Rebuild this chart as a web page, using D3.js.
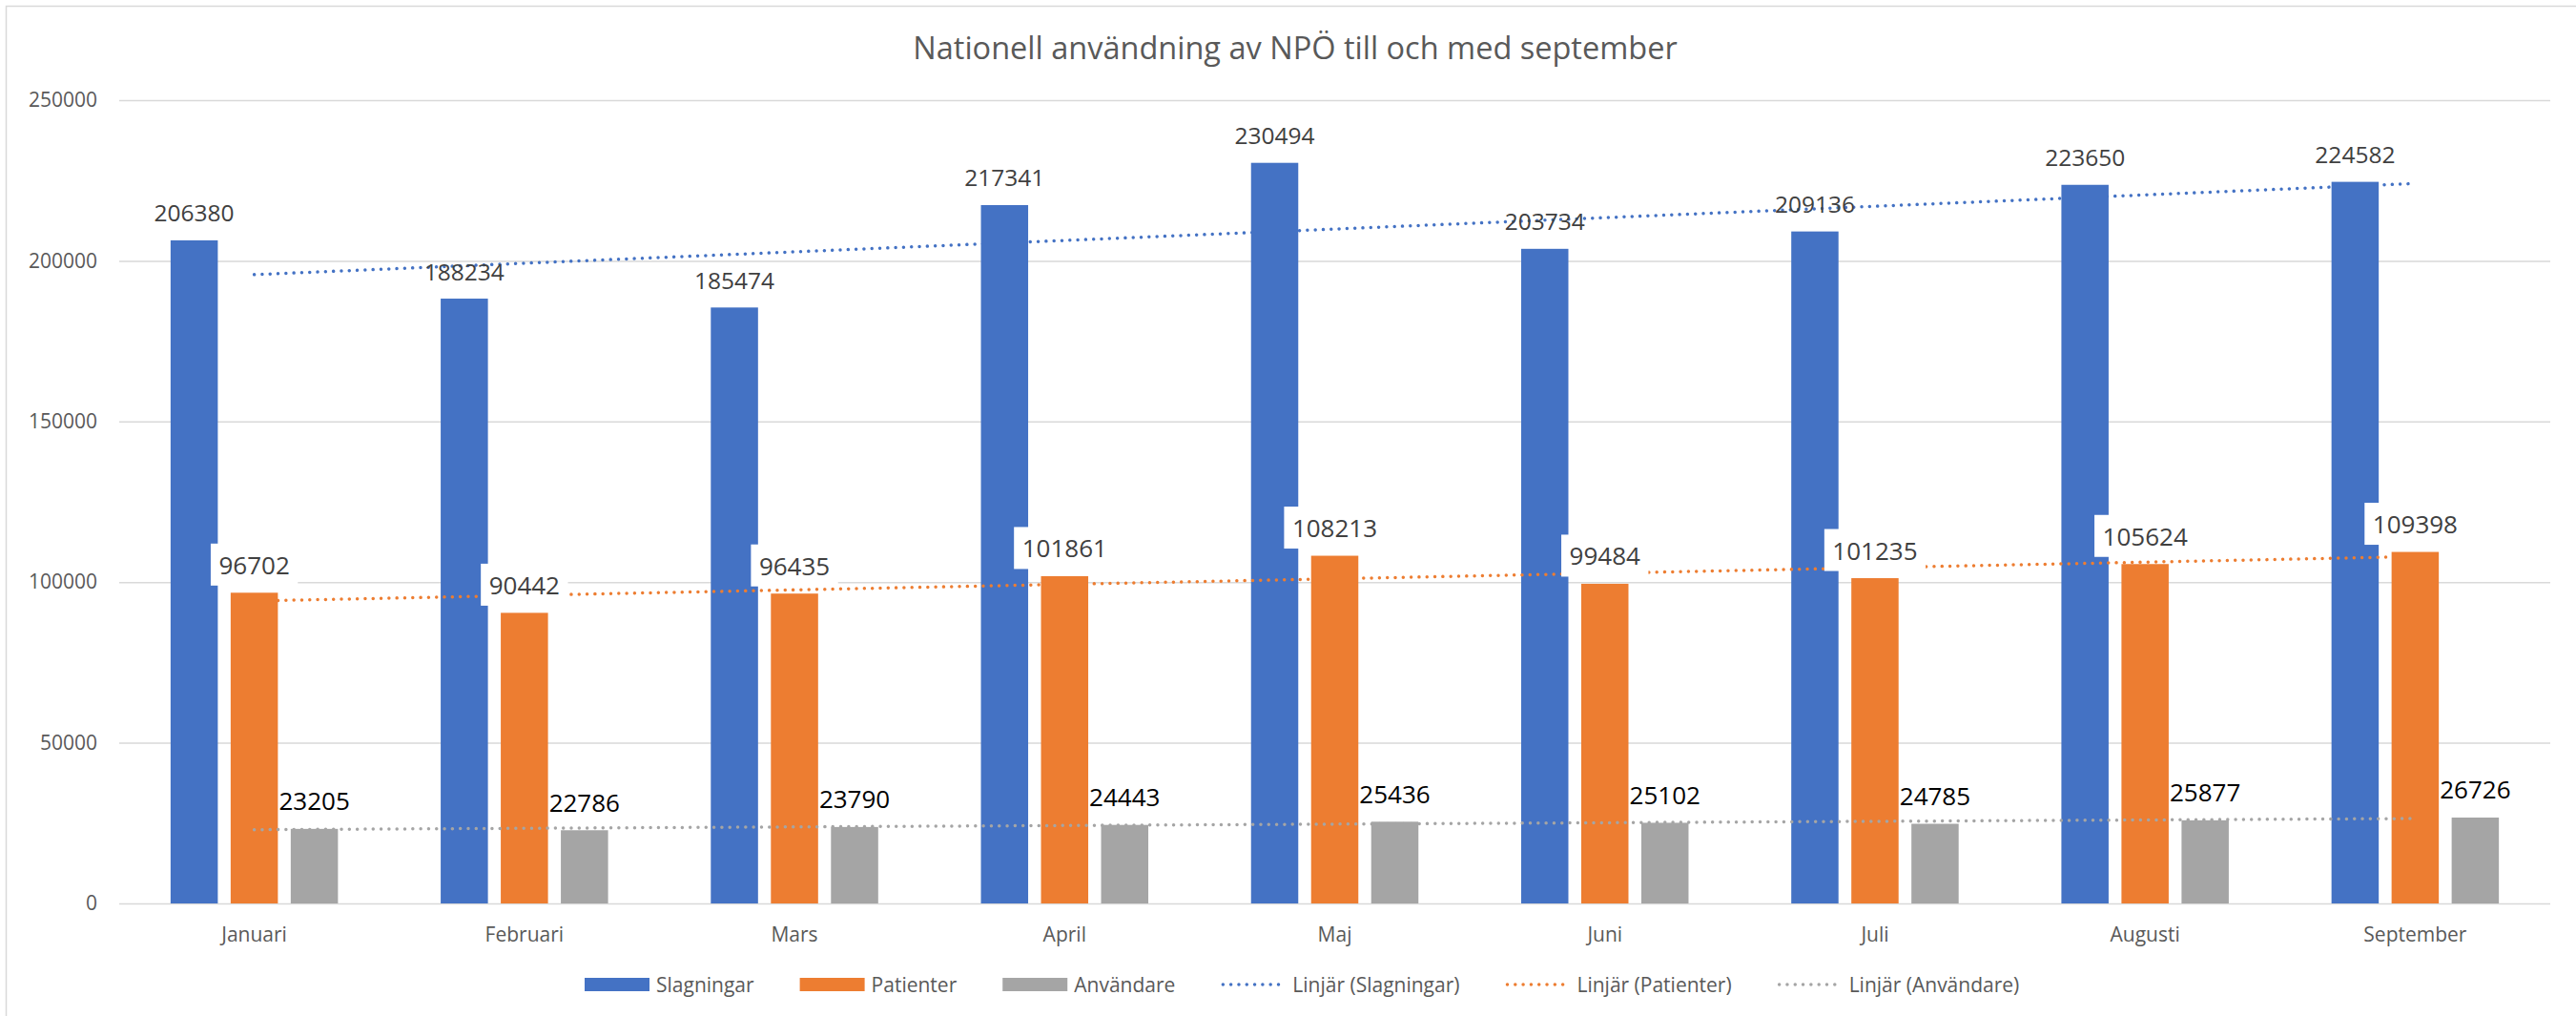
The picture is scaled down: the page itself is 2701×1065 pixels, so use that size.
<!DOCTYPE html>
<html>
<head>
<meta charset="utf-8">
<script src="https://cdn.jsdelivr.net/npm/d3@7"></script>
<style>
  body { margin: 0; background: #fff; }
  text { font-family: "Open Sans", "Noto Sans", sans-serif; }
</style>
</head>
<body>
<svg id="chart" width="2701" height="1065"></svg>
<script>
const months = ['Januari', 'Februari', 'Mars', 'April', 'Maj', 'Juni', 'Juli', 'Augusti', 'September'];
const slagningar = [206380, 188234, 185474, 217341, 230494, 203734, 209136, 223650, 224582];
const patienter = [96702, 90442, 96435, 101861, 108213, 99484, 101235, 105624, 109398];
const anvandare = [23205, 22786, 23790, 24443, 25436, 25102, 24785, 25877, 26726];
const seriesNames = ['Slagningar', 'Patienter', 'Användare'];
const yTicks = [0, 50000, 100000, 150000, 200000, 250000];

const colors = ['#4472C4', '#ED7D31', '#A5A5A5'];
const seriesValues = [slagningar, patienter, anvandare];

const svg = d3.select('#chart');
const plotLeft = 125, plotRight = 2674, plotTop = 105, plotBottom = 947;

// chart frame (only top/left edge inside the picture)
svg.append('rect')
  .attr('x', 6.5).attr('y', 6.5)
  .attr('width', 2720).attr('height', 1080)
  .attr('fill', 'white')
  .attr('stroke', '#d9d9d9')
  .attr('stroke-width', 1.5);

// title
svg.append('text')
  .attr('x', 1358).attr('y', 62)
  .attr('text-anchor', 'middle')
  .style('font-size', '32.5px')
  .style('fill', '#595959')
  .text('Nationell användning av NPÖ till och med september');

const x0 = d3.scaleBand().domain(months).range([plotLeft, plotRight]);
const groupW = 175.5;
const x1 = d3.scaleBand().domain(seriesNames).range([0, groupW]).paddingInner(0.214);
const groupOff = (x0.bandwidth() - groupW) / 2;
const y = d3.scaleLinear().domain([0, 250000]).range([plotBottom, plotTop]);

// grid + y labels
const yAxis = svg.append('g')
  .attr('transform', 'translate(' + plotLeft + ',0)')
  .call(d3.axisLeft(y).tickValues(yTicks).tickSize(-(plotRight - plotLeft)).tickPadding(23).tickFormat(d3.format('d')));
yAxis.select('.domain').remove();
yAxis.selectAll('.tick line').attr('stroke', '#d9d9d9').attr('stroke-width', 1.5);
yAxis.selectAll('.tick text')
  .style('font-size', '21px')
  .style('font-family', '"Open Sans", sans-serif')
  .attr('fill', '#595959');

// x labels
const xAxis = svg.append('g')
  .attr('transform', 'translate(0,' + plotBottom + ')')
  .call(d3.axisBottom(x0).tickSize(0).tickPadding(0));
xAxis.select('.domain').remove();
xAxis.selectAll('.tick text')
  .attr('dy', null)
  .attr('y', 40)
  .style('font-size', '21px')
  .style('font-family', '"Open Sans", sans-serif')
  .attr('fill', '#595959');

function trend(vals) {
  const n = vals.length;
  const mx = d3.mean(vals, (d, i) => i + 1);
  const my = d3.mean(vals);
  let sxy = 0, sxx = 0;
  vals.forEach((v, i) => { sxy += (i + 1 - mx) * (v - my); sxx += (i + 1 - mx) * (i + 1 - mx); });
  const b = sxy / sxx;
  return [1, n].map(k => [k, my + b * (k - mx)]);
}

const cx = i => x0(months[i]) + x0.bandwidth() / 2;

seriesNames.forEach((name, s) => {
  const vals = seriesValues[s];
  const g = svg.append('g').attr('class', 'series-' + s);

  // linear trendline (drawn under this series' bars)
  const t = trend(vals);
  g.append('line')
    .attr('x1', cx(t[0][0] - 1)).attr('y1', y(t[0][1]))
    .attr('x2', cx(t[1][0] - 1)).attr('y2', y(t[1][1]))
    .attr('stroke', colors[s])
    .attr('stroke-width', 3.5)
    .attr('stroke-linecap', 'round')
    .attr('stroke-dasharray', '0.01 8.3');

  g.selectAll('rect.bar')
    .data(vals)
    .enter()
    .append('rect')
    .attr('class', 'bar')
    .attr('x', (d, i) => x0(months[i]) + groupOff + x1(name))
    .attr('y', d => y(d))
    .attr('width', x1.bandwidth())
    .attr('height', d => y(0) - y(d))
    .attr('fill', colors[s]);

  const labels = g.selectAll('g.lbl')
    .data(vals)
    .enter()
    .append('g')
    .attr('class', 'lbl');

  const txt = labels.append('text')
    .attr('x', (d, i) => x0(months[i]) + groupOff + x1(name) + x1.bandwidth() / 2)
    .attr('y', d => y(d) - 19.5)
    .attr('text-anchor', 'middle')
    .style('font-size', s === 0 ? '24.5px' : '26px')
    .style('fill', s === 2 ? '#000000' : '#404040')
    .text(d => d);

  if (s === 1) {
    // white label boxes
    txt.each(function(d) {
      const w = this.getComputedTextLength() + 17;
      const xx = +d3.select(this).attr('x');
      const yy = +d3.select(this).attr('y');
      d3.select(this.parentNode).insert('rect', 'text')
        .attr('x', xx - w / 2).attr('y', yy - 32)
        .attr('width', w).attr('height', 44)
        .attr('fill', 'white');
    });
  }
});

// legend
const legendItems = seriesNames.map((n, i) => ({ name: n, color: colors[i], type: 'bar' }))
  .concat(seriesNames.map((n, i) => ({ name: 'Linjär (' + n + ')', color: colors[i], type: 'line' })));
const legend = svg.append('g').attr('class', 'legend');
let lx = 613;
const ly = 1032;
legendItems.forEach(item => {
  if (item.type === 'bar') {
    legend.append('rect')
      .attr('x', lx).attr('y', ly - 7)
      .attr('width', 68).attr('height', 14)
      .attr('fill', item.color);
  } else {
    legend.append('line')
      .attr('x1', lx + 2).attr('x2', lx + 68)
      .attr('y1', ly).attr('y2', ly)
      .attr('stroke', item.color)
      .attr('stroke-width', 3.5)
      .attr('stroke-linecap', 'round')
      .attr('stroke-dasharray', '0.01 8.3');
  }
  const t = legend.append('text')
    .attr('x', lx + 75).attr('y', ly + 7.5)
    .style('font-size', '21px')
    .style('fill', '#595959')
    .text(item.name);
  lx += 75 + t.node().getComputedTextLength() + 48;
});
</script>
</body>
</html>
